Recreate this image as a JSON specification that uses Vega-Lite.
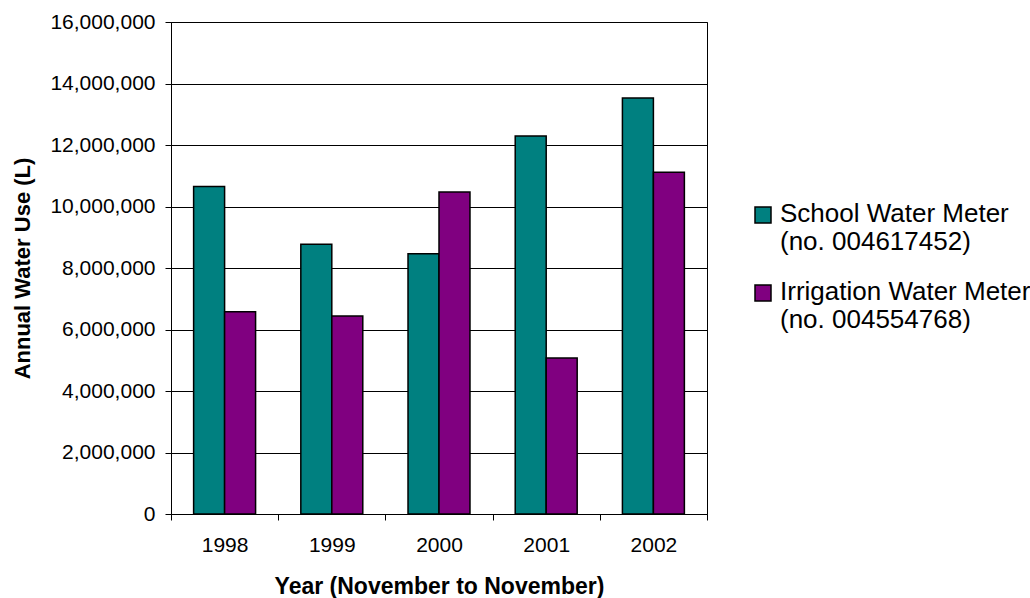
{
  "$schema": "https://vega.github.io/schema/vega-lite/v6.json",
  "width": 536,
  "height": 492,
  "autosize": "none",
  "padding": {"left": 171, "top": 22, "right": 323, "bottom": 84},
  "background": "white",
  "config": {
    "view": {"stroke": "black", "strokeWidth": 1},
    "font": "Liberation Sans"
  },
  "data": {
    "values": [
      {"year": "1998", "meter": "School Water Meter (no. 004617452)", "use": 10650000},
      {"year": "1998", "meter": "Irrigation Water Meter (no. 004554768)", "use": 6580000},
      {"year": "1999", "meter": "School Water Meter (no. 004617452)", "use": 8770000},
      {"year": "1999", "meter": "Irrigation Water Meter (no. 004554768)", "use": 6440000},
      {"year": "2000", "meter": "School Water Meter (no. 004617452)", "use": 8460000},
      {"year": "2000", "meter": "Irrigation Water Meter (no. 004554768)", "use": 10470000},
      {"year": "2001", "meter": "School Water Meter (no. 004617452)", "use": 12290000},
      {"year": "2001", "meter": "Irrigation Water Meter (no. 004554768)", "use": 5070000},
      {"year": "2002", "meter": "School Water Meter (no. 004617452)", "use": 13530000},
      {"year": "2002", "meter": "Irrigation Water Meter (no. 004554768)", "use": 11110000}
    ]
  },
  "mark": {"type": "bar", "stroke": "black", "strokeWidth": 1.5},
  "encoding": {
    "x": {
      "field": "year",
      "type": "nominal",
      "scale": {"paddingInner": 0, "paddingOuter": 0},
      "axis": {
        "title": "Year (November to November)",
        "tickBand": "extent",
        "labelAngle": 0,
        "grid": false,
        "domainColor": "black",
        "tickColor": "black",
        "tickSize": 6,
        "labelFontSize": 21,
        "labelColor": "black",
        "labelPadding": 14,
        "titleFontSize": 23,
        "titleFontWeight": "bold",
        "titleColor": "black",
        "titlePadding": 20
      }
    },
    "xOffset": {
      "field": "meter",
      "type": "nominal",
      "sort": ["School Water Meter (no. 004617452)", "Irrigation Water Meter (no. 004554768)"],
      "scale": {"paddingInner": 0, "paddingOuter": 0.73}
    },
    "y": {
      "field": "use",
      "type": "quantitative",
      "scale": {"domain": [0, 16000000]},
      "axis": {
        "title": "Annual Water Use (L)",
        "values": [0, 2000000, 4000000, 6000000, 8000000, 10000000, 12000000, 14000000, 16000000],
        "format": ",d",
        "grid": true,
        "gridColor": "black",
        "gridOpacity": 1,
        "domainColor": "black",
        "tickColor": "black",
        "tickSize": 6,
        "labelFontSize": 21,
        "labelColor": "black",
        "labelPadding": 10,
        "titleFontSize": 22,
        "titleFontWeight": "bold",
        "titleColor": "black",
        "titlePadding": 15
      }
    },
    "color": {
      "field": "meter",
      "type": "nominal",
      "scale": {
        "domain": ["School Water Meter (no. 004617452)", "Irrigation Water Meter (no. 004554768)"],
        "range": ["#008080", "#800080"]
      },
      "legend": {
        "title": null,
        "orient": "none",
        "legendX": 579,
        "legendY": 180,
        "padding": 0,
        "symbolType": "square",
        "symbolSize": 256,
        "symbolStrokeColor": "black",
        "symbolStrokeWidth": 1.5,
        "symbolOpacity": 1,
        "labelFontSize": 26,
        "labelColor": "black",
        "labelLimit": 400,
        "labelOffset": 4,
        "rowPadding": 24,
        "labelBaseline": "alphabetic",
        "labelExpr": "split(replace(datum.label, ' (', '|('), '|')",
        "encode": {"labels": {"update": {"dy": {"value": 7}}}}
      }
    }
  }
}
